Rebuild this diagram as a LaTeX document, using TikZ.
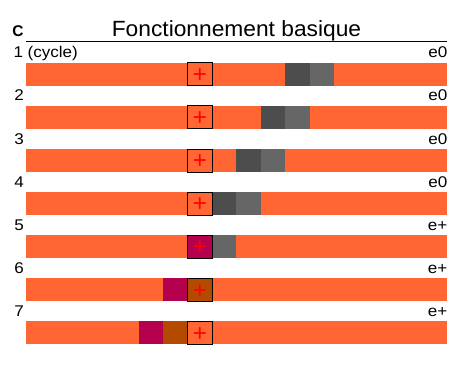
\documentclass[tikz,border=0pt]{standalone}
\usepackage{fontspec}
\setmainfont{Liberation Sans}
\newfontfamily\labfont[FakeStretch=1.1]{Liberation Sans}
\newfontfamily\titlefont[FakeStretch=1.035]{Liberation Sans}
\definecolor{barorange}{HTML}{FF6633}
\definecolor{dgray}{HTML}{4D4D4D}
\definecolor{lgray}{HTML}{666666}
\definecolor{magen}{HTML}{B5004D}
\definecolor{brownish}{HTML}{B34A00}
\begin{document}
\begin{tikzpicture}[x=1pt,y=-1pt,
  barnode/.style={fill=barorange, draw=none, minimum width=421pt, minimum height=23pt, inner sep=0pt, outer sep=0pt, anchor=north west},
  cell/.style={draw=none, minimum width=24.4pt, minimum height=23pt, inner sep=0pt, outer sep=0pt, anchor=north west},
  plusbox/.style={cell, draw=black, line width=1pt},
  plussign/.style={text=red, font=\fontsize{24}{26}\selectfont, inner sep=0pt, yshift=-1.3pt},
  lab/.style={font=\labfont\fontsize{15.5}{17}\selectfont, inner sep=0pt},
  numlab/.style={lab, anchor=base west},
  statelab/.style={lab, anchor=base east},
  title/.style={font=\titlefont\fontsize{22}{25}\selectfont, inner sep=0pt, anchor=base},
  letter/.style={font=\bfseries\fontsize{15.5}{17}\selectfont, inner sep=0pt, anchor=base west}
]
\useasboundingbox[fill=white] (0,0) rectangle (468,366);

% header
\node[letter] (C) at (12.2,36.5) {C};
\node[title] (T) at (236.5,36.5) {Fonctionnement basique};
\coordinate (L) at (26,42);
\coordinate (R) at (447,42);
\draw[line width=1pt] (L) -- (R);

% row 1
\node[numlab] (n1) at (13.3,58) {1 (cycle)};
\node[statelab] (e1) at (447.5,58) {e0};
\node[barnode] (bar1) at (26,63) {};
\node[cell, fill=dgray] (d1) at (285.2,63) {};
\node[cell, fill=lgray] (l1) at (309.6,63) {};
\node[plusbox, fill=barorange] (p1) at (187.6,63) {};
\node[plussign] (s1) at (p1.center) {+};

% row 2
\node[numlab] (n2) at (14.2,101) {2};
\node[statelab] (e2) at (447.5,101) {e0};
\node[barnode] (bar2) at (26,106) {};
\node[cell, fill=dgray] (d2) at (260.8,106) {};
\node[cell, fill=lgray] (l2) at (285.2,106) {};
\node[plusbox, fill=barorange] (p2) at (187.6,106) {};
\node[plussign] (s2) at (p2.center) {+};

% row 3
\node[numlab] (n3) at (14.2,144.1) {3};
\node[statelab] (e3) at (447.5,144.1) {e0};
\node[barnode] (bar3) at (26,149.1) {};
\node[cell, fill=dgray] (d3) at (236.4,149.1) {};
\node[cell, fill=lgray] (l3) at (260.8,149.1) {};
\node[plusbox, fill=barorange] (p3) at (187.6,149.1) {};
\node[plussign] (s3) at (p3.center) {+};

% row 4
\node[numlab] (n4) at (14.2,187.2) {4};
\node[statelab] (e4) at (447.5,187.2) {e0};
\node[barnode] (bar4) at (26,192.2) {};
\node[cell, fill=dgray] (d4) at (212,192.2) {};
\node[cell, fill=lgray] (l4) at (236.4,192.2) {};
\node[plusbox, fill=barorange] (p4) at (187.6,192.2) {};
\node[plussign] (s4) at (p4.center) {+};

% row 5
\node[numlab] (n5) at (14.2,230.2) {5};
\node[statelab] (e5) at (447.5,230.2) {e+};
\node[barnode] (bar5) at (26,235.2) {};
\node[cell, fill=lgray] (l5) at (212,235.2) {};
\node[plusbox, fill=magen] (p5) at (187.6,235.2) {};
\node[plussign] (s5) at (p5.center) {+};

% row 6
\node[numlab] (n6) at (14.2,273.3) {6};
\node[statelab] (e6) at (447.5,273.3) {e+};
\node[barnode] (bar6) at (26,278.3) {};
\node[cell, fill=magen] (m6) at (163.2,278.3) {};
\node[plusbox, fill=brownish] (p6) at (187.6,278.3) {};
\node[plussign] (s6) at (p6.center) {+};

% row 7
\node[numlab] (n7) at (14.2,316.3) {7};
\node[statelab] (e7) at (447.5,316.3) {e+};
\node[barnode] (bar7) at (26,321.3) {};
\node[cell, fill=magen] (m7) at (138.8,321.3) {};
\node[cell, fill=brownish] (b7) at (163.2,321.3) {};
\node[plusbox, fill=barorange] (p7) at (187.6,321.3) {};
\node[plussign] (s7) at (p7.center) {+};
\end{tikzpicture}
\end{document}
